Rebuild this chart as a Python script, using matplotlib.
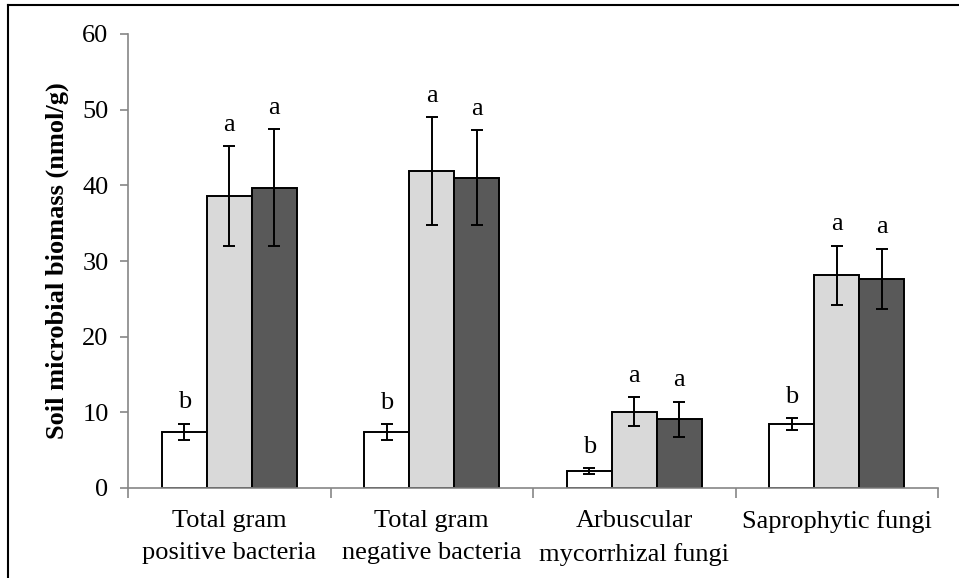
import numpy as np
import matplotlib
matplotlib.use("Agg")
import matplotlib.pyplot as plt
from matplotlib.lines import Line2D

categories = ["Total gram\npositive bacteria", "Total gram\nnegative bacteria",
              "Arbuscular\nmycorrhizal fungi", "Saprophytic fungi"]
white_vals = [7.4, 7.4, 2.2, 8.4]
white_err = [1.1, 1.0, 0.4, 0.8]
light_vals = [38.6, 41.9, 10.1, 28.1]
light_err = [6.6, 7.1, 1.9, 3.9]
dark_vals = [39.7, 41.0, 9.1, 27.6]
dark_err = [7.7, 6.3, 2.3, 4.0]
white_letters = ["b", "b", "b", "b"]
light_letters = ["a", "a", "a", "a"]
dark_letters = ["a", "a", "a", "a"]
yticks = [0, 10, 20, 30, 40, 50, 60]

plt.rcParams["font.family"] = ["Liberation Serif", "DejaVu Serif"]

fig = plt.figure(figsize=(9.59, 5.78), dpi=100)
ax = fig.add_axes([128 / 959, 1 - 488 / 578, (938 - 128) / 959, (488 - 34) / 578])

x = np.arange(len(categories))
w = 0.222
series = [
    (white_vals, white_err, white_letters, "#ffffff", -w),
    (light_vals, light_err, light_letters, "#d9d9d9", 0.0),
    (dark_vals, dark_err, dark_letters, "#595959", w),
]
for vals, errs, letters, color, off in series:
    ax.bar(x + off, vals, width=w, color=color, edgecolor="black", linewidth=1.4,
           yerr=errs, error_kw=dict(ecolor="black", elinewidth=1.4, capsize=4.5, capthick=1.4),
           zorder=2)
    for xi, v, e, lt in zip(x + off, vals, errs, letters):
        ax.annotate(lt, (xi, v + e), xytext=(0, 7.5), textcoords="offset points",
                    ha="center", va="bottom", fontsize=19)

ax.set_xlim(-0.5, len(categories) - 0.5)
ax.set_ylim(0, 60)
ax.set_yticks(yticks)
ax.tick_params(axis="y", labelsize=19, direction="out", length=6, color="#868686",
               width=1.2, pad=8)

ax.set_xticks(np.arange(len(categories) + 1) - 0.5)
ax.set_xticklabels([])
ax.set_xticks(x, minor=True)
ax.set_xticklabels(categories, minor=True, fontsize=19, linespacing=1.6)
ax.tick_params(axis="x", which="major", direction="out", length=7, color="#868686", width=1.2)
ax.tick_params(axis="x", which="minor", length=0, pad=16)

for s in ["top", "right"]:
    ax.spines[s].set_visible(False)
for s in ["left", "bottom"]:
    ax.spines[s].set_color("#868686")
    ax.spines[s].set_linewidth(1.2)

ax.set_ylabel("Soil microbial biomass (nmol/g)", fontsize=19, fontweight="bold")
ax.yaxis.label.set_verticalalignment("center")
ax.yaxis.set_label_coords(-(128 - 57) / 810, 0.5)

# outer frame lines along top and left edges
fig.add_artist(Line2D([8 / 959, 1.0], [1 - 5 / 578, 1 - 5 / 578], color="black", linewidth=1.5,
                      transform=fig.transFigure))
fig.add_artist(Line2D([8 / 959, 8 / 959], [0.0, 1 - 5 / 578], color="black", linewidth=1.5,
                      transform=fig.transFigure))

fig.savefig("out.png", dpi=100)
